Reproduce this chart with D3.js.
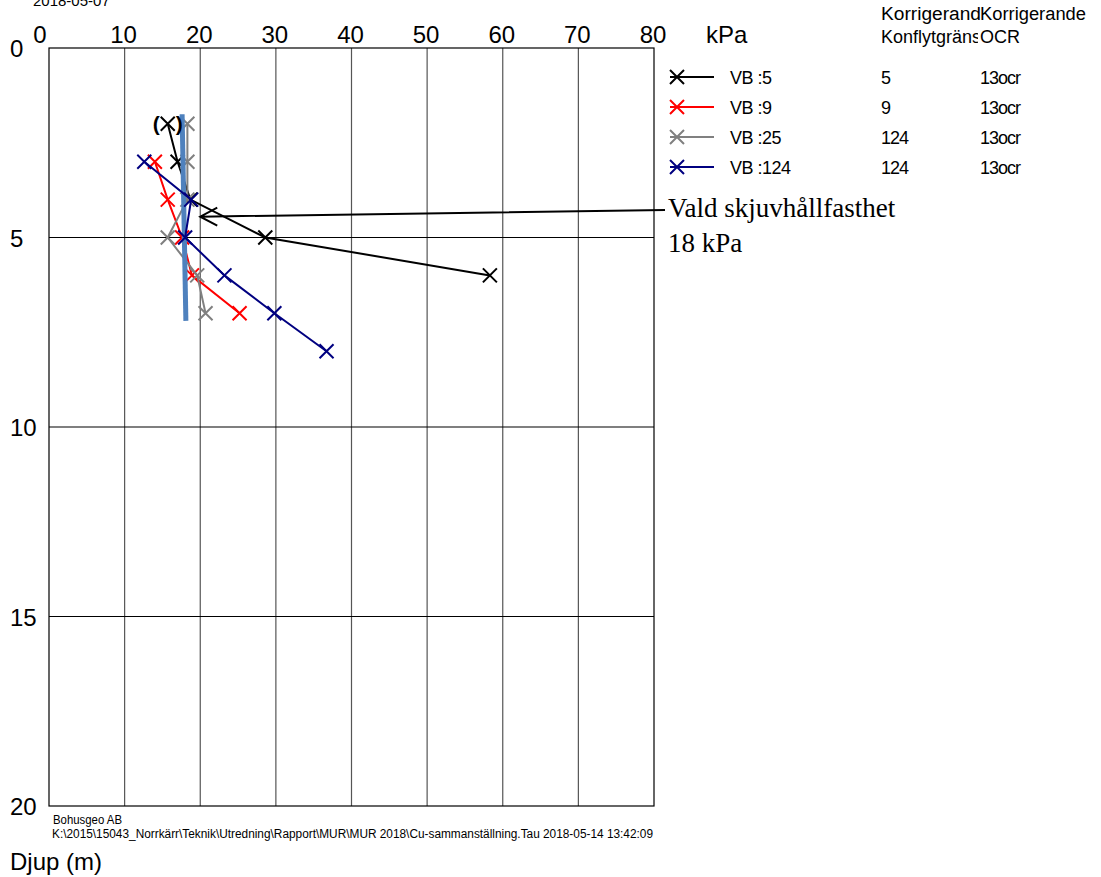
<!DOCTYPE html>
<html>
<head>
<meta charset="utf-8">
<script src="https://cdn.jsdelivr.net/npm/d3@7/dist/d3.min.js"></script>
<style>
  body { margin: 0; background: #fff; }
  svg { display: block; font-family: "Liberation Sans", Arial, sans-serif; }
</style>
</head>
<body>
<svg id="chart" width="1101" height="877"></svg>
<script>
// shear strength (kPa) vs depth (m), one array per probe
const depths = [2, 3, 4, 5, 6, 7, 8];
const vb5   = [15.7, 17.0, 18.7, 28.6, 58.3, null, null];
const vb9   = [null, 14.0, 15.7, 17.6, 18.9, 25.2, null];
const vb25  = [18.3, 18.3, 18.3, 15.7, 19.6, 20.7, null];
const vb124 = [null, 12.6, 18.8, 18.0, 23.2, 29.8, 36.7];

const seriesNames  = ["VB :5", "VB :9", "VB :25", "VB :124"];
const seriesColors = ["#000000", "#ff0000", "#808080", "#000080"];
const flowLimit    = ["5", "9", "124", "124"];
const ocrCol       = ["13ocr", "13ocr", "13ocr", "13ocr"];

const xTicks = [0, 10, 20, 30, 40, 50, 60, 70, 80];
const yTicks = [0, 5, 10, 15, 20];

// chosen design strength line (kPa, depth)
const chosenLine = [[17.6, 1.75], [18.1, 7.2]];
const arrowTip = [20.0, 4.45];

const svg = d3.select("#chart");
const x = d3.scaleLinear().domain([0, 80]).range([49, 654]);
const y = d3.scaleLinear().domain([0, 20]).range([48, 806]);

// grid
svg.append("g").selectAll("line")
  .data(xTicks.slice(1, -1))
  .join("line")
  .attr("x1", d => x(d)).attr("x2", d => x(d))
  .attr("y1", y(0)).attr("y2", y(20))
  .attr("stroke", "#555").attr("stroke-width", 1.2);

svg.append("g").selectAll("line")
  .data(yTicks.slice(1, -1))
  .join("line")
  .attr("x1", x(0)).attr("x2", x(80))
  .attr("y1", d => y(d)).attr("y2", d => y(d))
  .attr("stroke", "#000").attr("stroke-width", 1.2);

svg.append("rect")
  .attr("x", x(0)).attr("y", y(0))
  .attr("width", x(80) - x(0)).attr("height", y(20) - y(0))
  .attr("fill", "none").attr("stroke", "#000").attr("stroke-width", 1.2);

// tick labels
svg.append("g").selectAll("text")
  .data(xTicks)
  .join("text")
  .attr("x", d => d === 0 ? 40 : x(d) - 1)
  .attr("y", 43)
  .attr("text-anchor", "middle")
  .style("font-size", "24px")
  .text(d => d);

svg.append("g").selectAll("text")
  .data(yTicks)
  .join("text")
  .attr("x", 10)
  .attr("y", d => y(d) + 9)
  .style("font-size", "24px")
  .text(d => d);

svg.append("text").attr("x", 706).attr("y", 43)
  .style("font-size", "24px").text("kPa");

svg.append("text").attr("x", 10).attr("y", 870)
  .style("font-size", "24px").text("Djup (m)");

// date line, partly outside the page like in the print
svg.append("text").attr("x", 33).attr("y", 6)
  .style("font-size", "15px").text("2018-05-07");

svg.append("text").attr("x", 53).attr("y", 824)
  .style("font-size", "12px").attr("textLength", 69)
  .attr("lengthAdjust", "spacingAndGlyphs").text("Bohusgeo AB");
svg.append("text").attr("x", 52).attr("y", 838)
  .style("font-size", "12px").attr("textLength", 601)
  .attr("lengthAdjust", "spacingAndGlyphs")
  .text("K:\\2015\\15043_Norrkärr\\Teknik\\Utredning\\Rapport\\MUR\\MUR 2018\\Cu-sammanställning.Tau  2018-05-14 13:42:09");

// series
const allSeries = [vb5, vb9, vb25, vb124];
const line = d3.line()
  .defined(d => d[0] != null)
  .x(d => x(d[0])).y(d => y(d[1]));

function cross(g, cx, cy, color) {
  g.append("path")
    .attr("d", `M${cx - 7},${cy - 7}L${cx + 7},${cy + 7}M${cx - 7},${cy + 7}L${cx + 7},${cy - 7}`)
    .attr("stroke", color).attr("stroke-width", 2).attr("fill", "none");
}

function drawSeries(i) {
  const pts = depths.map((d, j) => [allSeries[i][j], d]);
  const g = svg.append("g");
  g.append("path")
    .datum(pts)
    .attr("d", line)
    .attr("fill", "none")
    .attr("stroke", seriesColors[i])
    .attr("stroke-width", 2);
  pts.filter(p => p[0] != null).forEach(p => cross(g, x(p[0]), y(p[1]), seriesColors[i]));
}

drawSeries(0);
drawSeries(1);
drawSeries(2);

svg.append("line")
  .attr("x1", x(chosenLine[0][0])).attr("y1", y(chosenLine[0][1]))
  .attr("x2", x(chosenLine[1][0])).attr("y2", y(chosenLine[1][1]))
  .attr("stroke", "#4f81bd").attr("stroke-width", 5);

drawSeries(3);

// brackets around first VB:5 value (questionable)
svg.append("text").attr("x", x(vb5[0]) - 15).attr("y", y(depths[0]) + 7)
  .style("font-size", "21px").style("font-weight", "bold").text("(");
svg.append("text").attr("x", x(vb5[0]) + 8).attr("y", y(depths[0]) + 7)
  .style("font-size", "21px").style("font-weight", "bold").text(")");

// annotation arrow
const tipX = x(arrowTip[0]), tipY = y(arrowTip[1]);
svg.append("path")
  .attr("d", `M665,210L${tipX},${tipY}M${tipX + 17},${tipY - 9}L${tipX},${tipY}L${tipX + 17},${tipY + 9}`)
  .attr("stroke", "#000").attr("stroke-width", 2).attr("fill", "none");

svg.append("text").attr("x", 668).attr("y", 217)
  .style("font-family", "'Liberation Serif', 'Times New Roman', serif")
  .style("font-size", "27px").text("Vald skjuvhållfasthet");
svg.append("text").attr("x", 668).attr("y", 252)
  .style("font-family", "'Liberation Serif', 'Times New Roman', serif")
  .style("font-size", "27px").text("18 kPa");

// legend
svg.append("text").attr("x", 881).attr("y", 20).style("font-size", "18px")
  .attr("textLength", 100).attr("lengthAdjust", "spacingAndGlyphs").text("Korrigerand");
svg.append("text").attr("x", 980).attr("y", 20).style("font-size", "18px")
  .attr("textLength", 106).attr("lengthAdjust", "spacingAndGlyphs").text("Korrigerande");
svg.append("text").attr("x", 881).attr("y", 43).style("font-size", "18px")
  .attr("textLength", 100).attr("lengthAdjust", "spacingAndGlyphs").text("Konflytgräns");
svg.append("rect").attr("x", 978).attr("y", 26).attr("width", 4).attr("height", 20).attr("fill", "#fff");
svg.append("text").attr("x", 980).attr("y", 43).style("font-size", "18px").text("OCR");

const leg = svg.append("g").selectAll("g")
  .data(seriesNames)
  .join("g")
  .attr("transform", (d, i) => `translate(0, ${77 + i * 30})`);

leg.append("line")
  .attr("x1", 670).attr("x2", 714).attr("y1", 0).attr("y2", 0)
  .attr("stroke", (d, i) => seriesColors[i]).attr("stroke-width", 2);
leg.each(function (d, i) { cross(d3.select(this), 677, 0, seriesColors[i]); });
leg.append("text").attr("x", 730).attr("y", 7).style("font-size", "18px").attr("letter-spacing", "-0.5px").text(d => d);
leg.append("text").attr("x", 881).attr("y", 7).style("font-size", "18px").attr("letter-spacing", "-1px").text((d, i) => flowLimit[i]);
leg.append("text").attr("x", 980).attr("y", 7).style("font-size", "18px").attr("letter-spacing", "-1px").text((d, i) => ocrCol[i]);
</script>
</body>
</html>
